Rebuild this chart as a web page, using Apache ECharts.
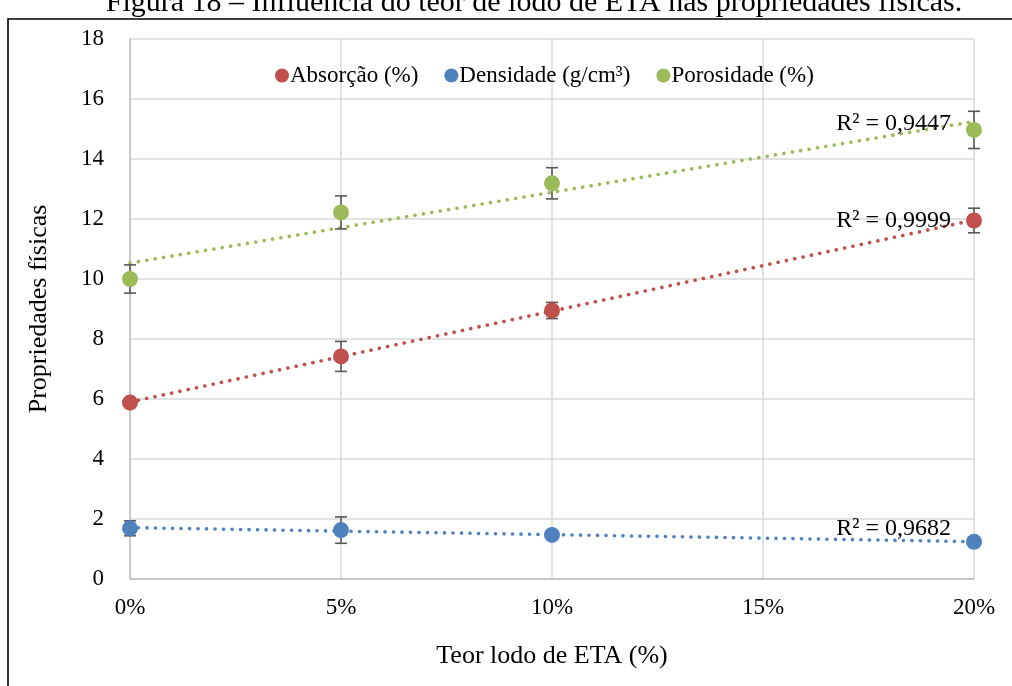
<!DOCTYPE html>
<html>
<head>
<meta charset="utf-8">
<script src="https://cdn.jsdelivr.net/npm/echarts@6/dist/echarts.min.js"></script>
<style>html,body{margin:0;padding:0;background:#fff}#c{width:1012px;height:686px}</style>
</head>
<body>
<div id="c"></div>
<script>
const teor = [0, 5, 10, 20];
const absorcao = [5.88, 7.42, 8.95, 11.95];
const absorcaoErr = [0.1, 0.5, 0.27, 0.41];
const densidade = [1.69, 1.63, 1.47, 1.24];
const densidadeErr = [0.25, 0.44, 0.05, 0.05];
const porosidade = [10.0, 12.22, 13.19, 14.97];
const porosidadeErr = [0.47, 0.55, 0.52, 0.62];
const r2Labels = ['R² = 0,9999', 'R² = 0,9682', 'R² = 0,9447'];
const seriesNames = ['Absorção (%)', 'Densidade (g/cm³)', 'Porosidade (%)'];
const xTicks = [0, 5, 10, 15, 20];

const colors = ['#C0504D', '#4F81BD', '#9BBB59'];
const FONT = 'Liberation Serif';

function fit(xs, ys) {
  const n = xs.length;
  const mx = xs.reduce((a, b) => a + b, 0) / n;
  const my = ys.reduce((a, b) => a + b, 0) / n;
  let sxy = 0, sxx = 0;
  for (let i = 0; i < n; i++) { sxy += (xs[i] - mx) * (ys[i] - my); sxx += (xs[i] - mx) ** 2; }
  const b = sxy / sxx, a = my - b * mx;
  return [[xs[0], a + b * xs[0]], [xs[n - 1], a + b * xs[n - 1]]];
}

const values = [absorcao, densidade, porosidade];
const errs = [absorcaoErr, densidadeErr, porosidadeErr];
const labelDy = [1, -13, 2];

const series = [];
values.forEach((v, i) => {
  const tl = fit(teor, v);
  series.push({
    type: 'line', name: seriesNames[i] + ' trend', data: tl, showSymbol: false, silent: true,
    lineStyle: { color: colors[i], width: 3.6, type: [0.1, 8.4], cap: 'round' },
    z: 2
  });
  series.push({
    type: 'scatter', name: seriesNames[i] + ' r2', silent: true, z: 5,
    data: [tl[1]], symbol: 'circle', symbolSize: 2, itemStyle: { color: 'rgba(255,255,255,0)' },
    label: {
      show: true, formatter: r2Labels[i], position: 'left', distance: 22,
      fontFamily: FONT, fontSize: 24, color: '#000', opacity: 1
    },
    labelLayout: { hideOverlap: false, dy: labelDy[i] }
  });
});
values.forEach((v, i) => {
  series.push({
    type: 'custom', name: seriesNames[i] + ' err', silent: true, z: 3,
    data: teor.map((x, k) => [x, v[k] - errs[i][k], v[k] + errs[i][k]]),
    renderItem: function (params, api) {
      const lo = api.coord([api.value(0), api.value(1)]);
      const hi = api.coord([api.value(0), api.value(2)]);
      const w = 6;
      const st = { stroke: '#595959', lineWidth: 1.6, fill: null };
      return {
        type: 'group', children: [
          { type: 'line', shape: { x1: lo[0], y1: lo[1], x2: hi[0], y2: hi[1] }, style: st },
          { type: 'line', shape: { x1: lo[0] - w, y1: lo[1], x2: lo[0] + w, y2: lo[1] }, style: st },
          { type: 'line', shape: { x1: hi[0] - w, y1: hi[1], x2: hi[0] + w, y2: hi[1] }, style: st }
        ]
      };
    }
  });
});
values.forEach((v, i) => {
  series.push({
    type: 'scatter', name: seriesNames[i], data: teor.map((x, k) => [x, v[k]]),
    symbol: 'circle', symbolSize: 16, itemStyle: { color: colors[i], opacity: 1 }, z: 4
  });
});

const chart = echarts.init(document.getElementById('c'), null, { renderer: 'canvas' });
chart.setOption({
  animation: false,
  backgroundColor: '#fff',
  textStyle: { fontFamily: FONT },
  graphic: [
    { type: 'rect', shape: { x: 8, y: 19, width: 1100, height: 800 }, style: { fill: null, stroke: '#000', lineWidth: 1.6 }, z: 0 },
    { type: 'text', x: 534, y: 3, style: { text: 'Figura 18 – Influência do teor de lodo de ETA nas propriedades físicas.', font: '30px "Liberation Serif"', fill: '#000', textAlign: 'center', textVerticalAlign: 'middle' } }
  ],
  legend: {
    data: seriesNames, top: 59, left: 270, icon: 'circle', itemWidth: 14, itemHeight: 14, itemGap: 26,
    textStyle: { fontFamily: FONT, fontSize: 23, color: '#000', padding: [0, 0, 0, -4] }
  },
  grid: { left: 130, right: 38, top: 39, bottom: 107, containLabel: false },
  xAxis: {
    type: 'value', min: xTicks[0], max: xTicks[xTicks.length - 1], interval: 5,
    name: 'Teor lodo de ETA (%)', nameLocation: 'middle', nameGap: 64,
    nameTextStyle: { fontFamily: FONT, fontSize: 26, color: '#000' },
    axisLine: { show: true, lineStyle: { color: '#BFBFBF', width: 1.5 } },
    axisTick: { show: false },
    axisLabel: { formatter: '{value}%', fontFamily: FONT, fontSize: 23, color: '#000', margin: 17 },
    splitLine: { show: true, lineStyle: { color: '#D9D9D9', width: 1.5 } }
  },
  yAxis: {
    type: 'value', min: 0, max: 18, interval: 2,
    name: 'Propriedades físicas', nameLocation: 'middle', nameGap: 78,
    nameTextStyle: { fontFamily: FONT, fontSize: 26, color: '#000' },
    axisLine: { show: true, lineStyle: { color: '#BFBFBF', width: 1.5 } },
    axisTick: { show: false },
    axisLabel: { fontFamily: FONT, fontSize: 23, color: '#000', margin: 26 },
    splitLine: { show: true, lineStyle: { color: '#D9D9D9', width: 1.5 } }
  },
  series: series
});
</script>
</body>
</html>
